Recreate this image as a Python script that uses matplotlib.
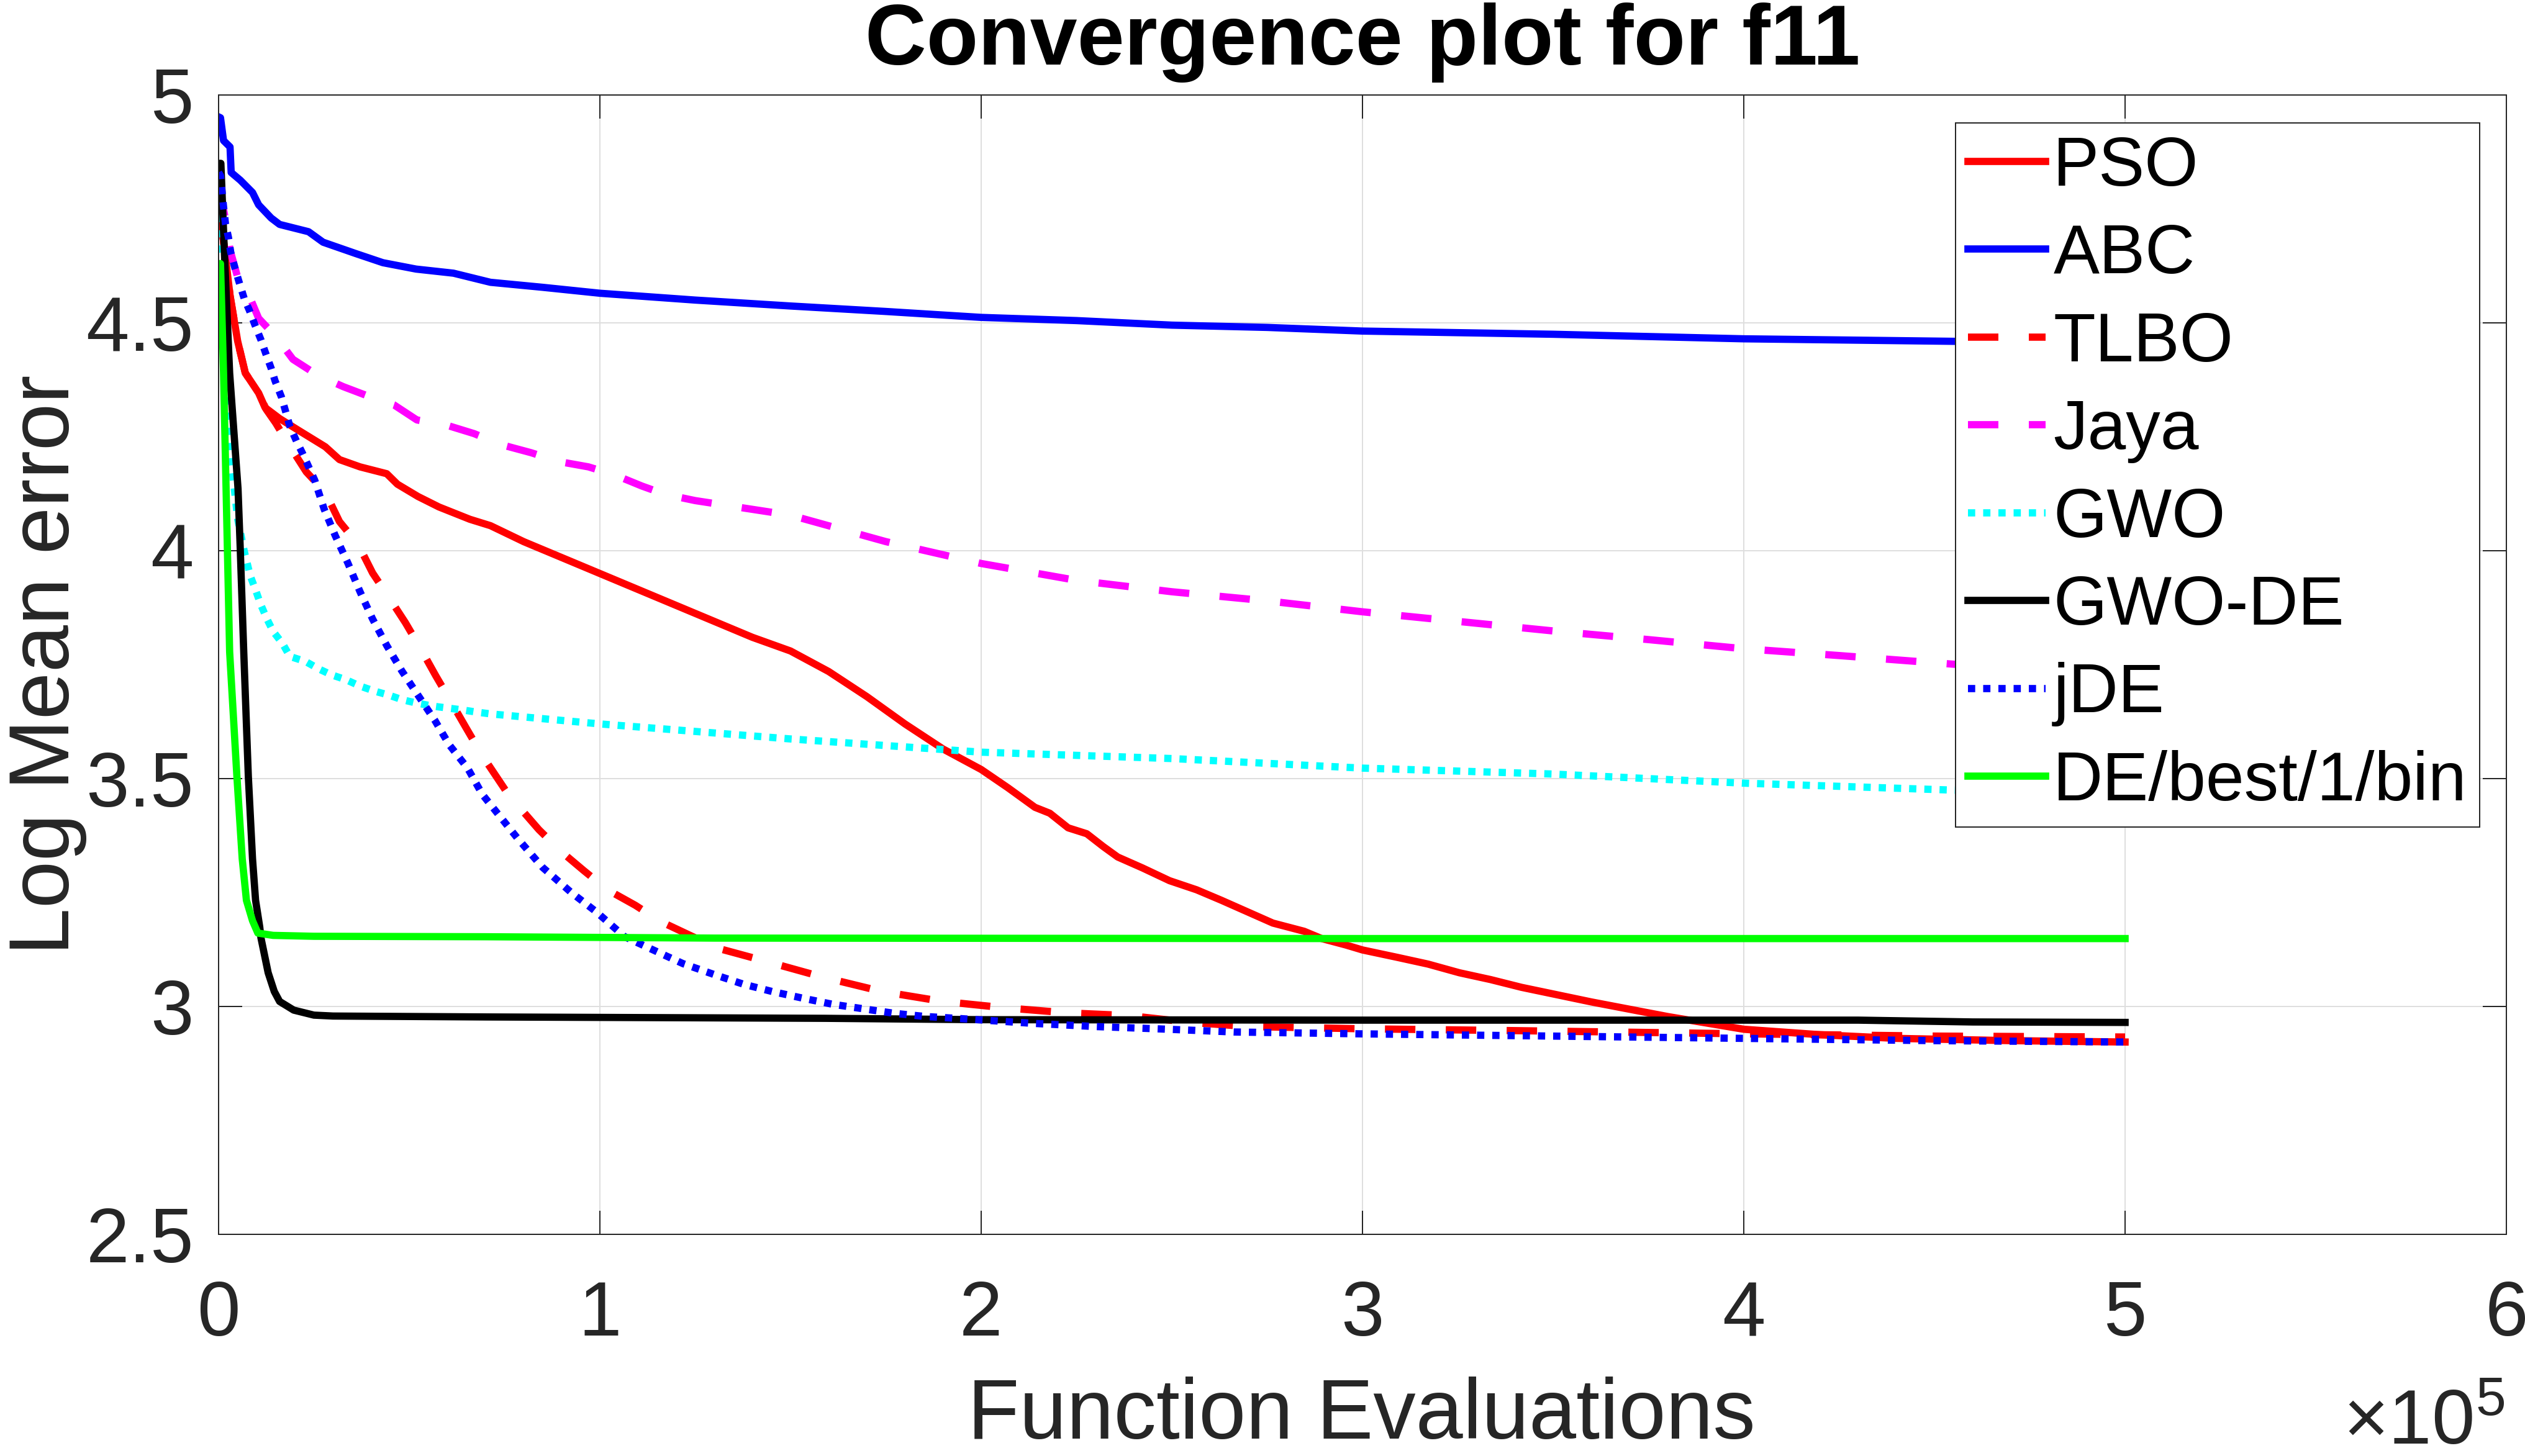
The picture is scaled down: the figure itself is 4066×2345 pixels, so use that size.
import numpy as np
import matplotlib
matplotlib.use('Agg')
import matplotlib.pyplot as plt

plt.rcParams['font.family'] = ['Liberation Sans', 'DejaVu Sans']
plt.rcParams['mathtext.fontset'] = 'custom'
plt.rcParams['mathtext.rm'] = 'Liberation Sans'
plt.rcParams['mathtext.it'] = 'Liberation Sans:italic'
plt.rcParams['mathtext.bf'] = 'Liberation Sans:bold'

# Function evaluations (x 1e5) and log mean error
pso_x = [0, 0.01, 0.03, 0.05, 0.07, 0.105, 0.122, 0.16, 0.21, 0.28, 0.317, 0.371, 0.441, 0.469, 0.523,
         0.578, 0.659, 0.713, 0.8, 0.9, 1.0, 1.1, 1.2, 1.3, 1.4, 1.5, 1.6, 1.7, 1.8, 1.9, 2.0, 2.07,
         2.141, 2.18, 2.228, 2.277, 2.32, 2.358, 2.423, 2.494, 2.565, 2.63, 2.684, 2.765, 2.847, 2.893,
         2.956, 3.0, 3.09, 3.172, 3.254, 3.336, 3.417, 3.6, 3.8, 4.0, 4.2, 4.4, 4.7, 5.0]
pso_y = [4.84, 4.70, 4.56, 4.46, 4.39, 4.346, 4.314, 4.29, 4.264, 4.228, 4.20, 4.184, 4.169, 4.146, 4.119,
         4.096, 4.069, 4.055, 4.02, 3.985, 3.95, 3.915, 3.88, 3.845, 3.81, 3.78, 3.735, 3.68, 3.62, 3.565,
         3.52, 3.48, 3.437, 3.424, 3.392, 3.379, 3.351, 3.328, 3.304, 3.276, 3.256, 3.233, 3.213, 3.183,
         3.165, 3.149, 3.135, 3.124, 3.108, 3.093, 3.074, 3.059, 3.042, 3.01, 2.978, 2.95, 2.938, 2.93,
         2.925, 2.922]

abc_x = [0, 0.005, 0.013, 0.03, 0.033, 0.057, 0.089, 0.105, 0.138, 0.16, 0.236, 0.274, 0.36, 0.431, 0.518,
         0.616, 0.713, 0.85, 1.0, 1.25, 1.5, 1.75, 2.0, 2.25, 2.5, 2.75, 3.0, 3.5, 4.0, 4.5, 5.0]
abc_y = [4.952, 4.95, 4.90, 4.886, 4.83, 4.813, 4.786, 4.759, 4.73, 4.716, 4.70, 4.677, 4.652, 4.632, 4.618,
         4.609, 4.589, 4.578, 4.565, 4.55, 4.537, 4.525, 4.512, 4.505, 4.495, 4.49, 4.482, 4.475, 4.465,
         4.46, 4.455]

tlbo_x = [0, 0.01, 0.03, 0.05, 0.07, 0.105, 0.125, 0.15, 0.181, 0.23, 0.28, 0.317, 0.366, 0.404, 0.448,
          0.49, 0.53, 0.57, 0.61, 0.65, 0.692, 0.76, 0.84, 0.897, 0.958, 1.02, 1.093, 1.158, 1.272, 1.308,
          1.427, 1.582, 1.739, 1.899, 2.063, 2.225, 2.388, 2.549, 2.7, 3.0, 3.4, 4.0, 4.5, 5.0]
tlbo_y = [4.84, 4.70, 4.56, 4.46, 4.39, 4.346, 4.31, 4.28, 4.237, 4.173, 4.128, 4.064, 4.014, 3.951, 3.896,
          3.842, 3.785, 3.725, 3.668, 3.61, 3.55, 3.465, 3.388, 3.341, 3.298, 3.256, 3.222, 3.187, 3.142,
          3.128, 3.101, 3.065, 3.033, 3.011, 2.997, 2.986, 2.98, 2.965, 2.956, 2.951, 2.947, 2.94, 2.935,
          2.933]

jaya_x = [0, 0.02, 0.03, 0.05, 0.08, 0.105, 0.15, 0.195, 0.26, 0.327, 0.39, 0.46, 0.52, 0.60, 0.67, 0.74,
          0.82, 0.89, 0.97, 1.04, 1.11, 1.17, 1.25, 1.5, 1.75, 2.0, 2.25, 2.5, 2.75, 3.0, 3.25, 3.5, 3.75,
          4.0, 4.25, 4.55, 5.0]
jaya_y = [4.80, 4.72, 4.66, 4.60, 4.56, 4.51, 4.47, 4.42, 4.385, 4.36, 4.34, 4.32, 4.287, 4.275, 4.257,
          4.233, 4.215, 4.196, 4.184, 4.166, 4.142, 4.124, 4.11, 4.078, 4.02, 3.972, 3.935, 3.91, 3.89,
          3.866, 3.845, 3.824, 3.805, 3.785, 3.77, 3.751, 3.73]

gwo_x = [0, 0.005, 0.015, 0.03, 0.05, 0.067, 0.083, 0.097, 0.11, 0.127, 0.143, 0.168, 0.187, 0.228, 0.262,
         0.295, 0.334, 0.371, 0.409, 0.447, 0.482, 0.518, 0.562, 0.599, 0.637, 0.676, 0.713, 1.0, 1.5,
         2.0, 2.5, 3.0, 3.5, 4.0, 4.54, 5.0]
gwo_y = [4.77, 4.65, 4.45, 4.22, 4.07, 4.00, 3.945, 3.914, 3.883, 3.85, 3.823, 3.796, 3.768, 3.757, 3.741,
         3.728, 3.717, 3.703, 3.692, 3.683, 3.673, 3.666, 3.659, 3.655, 3.651, 3.646, 3.642, 3.62, 3.587,
         3.558, 3.544, 3.523, 3.51, 3.49, 3.475, 3.465]

gwode_x = [0, 0.006, 0.015, 0.029, 0.051, 0.057, 0.066, 0.078, 0.089, 0.097, 0.108, 0.111, 0.13, 0.146,
           0.16, 0.197, 0.25, 0.3, 0.7, 1.0, 1.59, 2.0, 3.0, 4.3, 4.6, 5.0]
gwode_y = [4.85, 4.85, 4.66, 4.39, 4.136, 4.0, 3.778, 3.505, 3.324, 3.233, 3.174, 3.151, 3.074, 3.033,
           3.011, 2.992, 2.981, 2.979, 2.977, 2.976, 2.974, 2.971, 2.970, 2.970, 2.966, 2.965]

jde_x = [0, 0.005, 0.013, 0.018, 0.026, 0.032, 0.043, 0.054, 0.067, 0.081, 0.095, 0.111, 0.124, 0.138,
         0.148, 0.165, 0.187, 0.204, 0.22, 0.252, 0.277, 0.306, 0.339, 0.371, 0.404, 0.441, 0.48, 0.523,
         0.567, 0.605, 0.653, 0.692, 0.785, 0.85, 0.925, 0.99, 1.065, 1.158, 1.218, 1.30, 1.376, 1.451,
         1.533, 1.609, 1.69, 1.772, 1.853, 1.935, 2.135, 2.298, 2.461, 2.663, 2.99, 3.4, 4.0, 4.5, 5.0]
jde_y = [4.83, 4.823, 4.755, 4.718, 4.687, 4.654, 4.62, 4.589, 4.554, 4.527, 4.496, 4.463, 4.432, 4.40,
         4.373, 4.337, 4.273, 4.241, 4.214, 4.155, 4.091, 4.033, 3.973, 3.91, 3.85, 3.792, 3.737, 3.683,
         3.628, 3.574, 3.523, 3.465, 3.368, 3.305, 3.25, 3.208, 3.153, 3.117, 3.094, 3.07, 3.049, 3.033,
         3.018, 3.005, 2.995, 2.985, 2.978, 2.974, 2.963, 2.956, 2.951, 2.944, 2.94, 2.936, 2.93, 2.925,
         2.922]

de_x = [0, 0.005, 0.013, 0.029, 0.048, 0.062, 0.073, 0.089, 0.103, 0.143, 0.25, 0.7, 1.3, 3.0, 5.0]
de_y = [4.63, 4.63, 4.39, 3.778, 3.505, 3.324, 3.233, 3.188, 3.161, 3.156, 3.154, 3.153, 3.150, 3.149, 3.149]

x_ticks = [0, 1, 2, 3, 4, 5, 6]
y_ticks = [2.5, 3, 3.5, 4, 4.5, 5]
y_tick_labels = ['2.5', '3', '3.5', '4', '4.5', '5']

dark = '#262626'
lw = 3.5
dash = (4.2, 4.2)
dot = (1.0, 1.1)

fig = plt.figure(figsize=(4066 / 240, 2345 / 240), dpi=240)
ax = fig.add_axes([0.08657, 0.15224, 0.90605, 0.78252])

scale = 1e5
ax.plot(np.array(pso_x) * scale, pso_y, color='red', lw=lw, label='PSO')
ax.plot(np.array(abc_x) * scale, abc_y, color='blue', lw=lw, label='ABC')
ax.plot(np.array(tlbo_x) * scale, tlbo_y, color='red', lw=lw, dashes=dash, label='TLBO')
ax.plot(np.array(jaya_x) * scale, jaya_y, color='magenta', lw=lw, dashes=dash, label='Jaya')
ax.plot(np.array(gwo_x) * scale, gwo_y, color='cyan', lw=lw, dashes=dot, label='GWO')
ax.plot(np.array(gwode_x) * scale, gwode_y, color='black', lw=lw, label='GWO-DE')
ax.plot(np.array(jde_x) * scale, jde_y, color='blue', lw=lw, dashes=dot, label='jDE')
ax.plot(np.array(de_x) * scale, de_y, color='#00ff00', lw=lw, label='DE/best/1/bin')

ax.set_xlim(0, 6 * scale)
ax.set_ylim(2.5, 5)
ax.set_xticks(np.array(x_ticks) * scale)
ax.set_xticklabels([str(t) for t in x_ticks])
ax.set_yticks(y_ticks)
ax.set_yticklabels(y_tick_labels)

ax.tick_params(direction='in', length=11.4, width=0.6, top=True, right=True,
               labelsize=37.5, colors=dark)
ax.tick_params(axis='x', pad=22)
ax.tick_params(axis='y', pad=12)
for s in ax.spines.values():
    s.set_linewidth(0.6)
    s.set_color(dark)
ax.grid(True, color='#dedede', linewidth=0.6)
ax.set_axisbelow(True)

ax.set_title('Convergence plot for f11', fontsize=41, fontweight='bold', pad=14.7)
ax.set_xlabel('Function Evaluations', fontsize=41, color=dark)
ax.set_ylabel('Log Mean error', fontsize=41, color=dark)
ax.xaxis.set_label_coords(0.4995, -0.125)
ax.yaxis.set_label_coords(-0.0575, 0.5)

fig.text(0.9919, 0.008, r'$\times10^{5}$', fontsize=37.5, color=dark, ha='right', va='baseline')

leg = ax.legend(loc='upper right', bbox_to_anchor=(0.9883, 0.9755), borderaxespad=0,
                fontsize=33.3, frameon=True, fancybox=False, edgecolor=dark, framealpha=1,
                handlelength=1.13, handletextpad=0.11, labelspacing=0.337, borderpad=0.18)
leg.get_frame().set_linewidth(0.6)

fig.savefig('out.png', dpi=240)
